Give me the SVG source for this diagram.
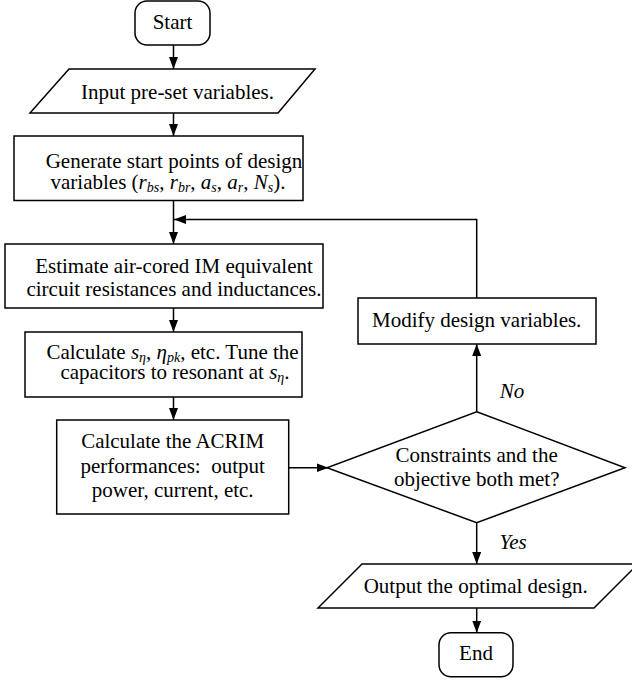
<svg xmlns="http://www.w3.org/2000/svg" width="632" height="682" viewBox="0 0 632 682">
<defs>
<style>
.s{fill:#fff;stroke:#000;stroke-width:1.5}
.t{font-family:"Liberation Serif","Times New Roman",serif;font-size:21px;fill:#000;text-anchor:middle}
.i{font-style:italic}
.sb{font-style:italic;font-size:14px}
.c{fill:none;stroke:#000;stroke-width:1.5}
</style>
<marker id="a" viewBox="0 0 12 9" refX="12" refY="4.5" markerWidth="12" markerHeight="9" markerUnits="userSpaceOnUse" orient="auto"><path d="M0,0 L12,4.5 L0,9 z" fill="#000"/></marker>
</defs>
<rect width="632" height="682" fill="#fff"/>
<g id="connectors">
<line class="c" x1="173.5" y1="45" x2="173.5" y2="69" marker-end="url(#a)"/>
<line class="c" x1="173.5" y1="113" x2="173.5" y2="136" marker-end="url(#a)"/>
<line class="c" x1="173.5" y1="200.5" x2="173.5" y2="244" marker-end="url(#a)"/>
<polyline class="c" points="476.7,298 476.7,219.5 174,219.5" marker-end="url(#a)"/>
<line class="c" x1="173.5" y1="308" x2="173.5" y2="332" marker-end="url(#a)"/>
<line class="c" x1="173.5" y1="397" x2="173.5" y2="420" marker-end="url(#a)"/>
<line class="c" x1="288.7" y1="467.7" x2="328.5" y2="467.7" marker-end="url(#a)"/>
<line class="c" x1="476.7" y1="411.7" x2="476.7" y2="344" marker-end="url(#a)"/>
<line class="c" x1="476.7" y1="522.7" x2="476.7" y2="564" marker-end="url(#a)"/>
<line class="c" x1="476.7" y1="608" x2="476.7" y2="632.7" marker-end="url(#a)"/>
<text class="t i" x="512" y="398">No</text>
<text class="t i" x="513" y="549">Yes</text>
</g>
<g id="start">
<rect class="s" x="135" y="1" width="75" height="44" rx="12"/>
<text class="t" x="172.5" y="29.3">Start</text>
</g>
<g id="input">
<polygon class="s" points="69,69 315,69 278,113 30,113"/>
<text class="t" x="177.5" y="99">Input pre-set variables.</text>
</g>
<g id="generate">
<rect class="s" x="14" y="136" width="289" height="64.5"/>
<text class="t" x="174" y="168">Generate start points of design</text>
<text class="t" x="168" y="189.3">variables (<tspan class="i">r</tspan><tspan class="sb" dy="3">bs</tspan><tspan dy="-3">, </tspan><tspan class="i">r</tspan><tspan class="sb" dy="3">br</tspan><tspan dy="-3">, </tspan><tspan class="i">a</tspan><tspan class="sb" dy="3">s</tspan><tspan dy="-3">, </tspan><tspan class="i">a</tspan><tspan class="sb" dy="3">r</tspan><tspan dy="-3">, </tspan><tspan class="i">N</tspan><tspan class="sb" dy="3">s</tspan><tspan dy="-3">).</tspan></text>
</g>
<g id="estimate">
<rect class="s" x="5" y="244" width="318" height="64"/>
<text class="t" x="174" y="273.3">Estimate air-cored IM equivalent</text>
<text class="t" x="174" y="296">circuit resistances and inductances.</text>
</g>
<g id="calc1">
<rect class="s" x="25" y="332" width="277" height="65"/>
<text class="t" x="172.5" y="359.3">Calculate <tspan class="i">s</tspan><tspan class="sb" dy="3">η</tspan><tspan dy="-3">, </tspan><tspan class="i">η</tspan><tspan class="sb" dy="3">pk</tspan><tspan dy="-3">, etc. Tune the</tspan></text>
<text class="t" x="175" y="379.3">capacitors to resonant at <tspan class="i">s</tspan><tspan class="sb" dy="3">η</tspan><tspan dy="-3">.</tspan></text>
</g>
<g id="calc2">
<rect class="s" x="56.7" y="420" width="232" height="94"/>
<text class="t" x="172.7" y="448">Calculate the ACRIM</text>
<text class="t" x="172.7" y="473" xml:space="preserve">performances:  output</text>
<text class="t" x="172.7" y="497">power, current, etc.</text>
</g>
<g id="modify">
<rect class="s" x="358" y="298" width="238" height="46"/>
<text class="t" x="476.7" y="326.7">Modify design variables.</text>
</g>
<g id="decision">
<polygon class="s" points="476.7,411.7 625,467.7 476.7,522.7 327,467.7"/>
<text class="t" x="476.7" y="461.7">Constraints and the</text>
<text class="t" x="476.7" y="486">objective both met?</text>
</g>
<g id="output">
<polygon class="s" points="362,564 638,564 594,608 318,608"/>
<text class="t" x="475.7" y="592.7">Output the optimal design.</text>
</g>
<g id="end">
<rect class="s" x="439" y="632.7" width="74" height="44" rx="12"/>
<text class="t" x="476" y="660">End</text>
</g>
</svg>
